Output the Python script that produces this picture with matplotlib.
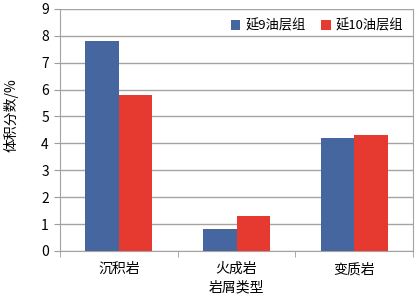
import numpy as np
import matplotlib
matplotlib.use("Agg")
import matplotlib.pyplot as plt

plt.rcParams['font.family'] = ['Noto Sans CJK SC', 'DejaVu Sans']

# data
categories = ['沉积岩', '火成岩', '变质岩']
series_names = ['延9油层组', '延10油层组']
yan9 = [7.8, 0.8, 4.2]
yan10 = [5.8, 1.3, 4.3]
colors = ['#4666a0', '#e63a30']

fig = plt.figure(figsize=(4.18, 2.97), dpi=100)
ax = fig.add_axes([0.1435, 0.155, 0.845, 0.815])

x = np.arange(len(categories))
w = 0.285
ax.bar(x - w / 2, yan9, w, color=colors[0], label=series_names[0], zorder=3)
ax.bar(x + w / 2, yan10, w, color=colors[1], label=series_names[1], zorder=3)

ax.set_xlim(-0.5, 2.5)
ax.set_ylim(0, 9)
ax.set_yticks(range(0, 10))
ax.set_xticks(x)
ax.set_xticklabels(categories, fontsize=10)
ax.set_xticks([-0.5, 0.5, 1.5, 2.5], minor=True)
ax.tick_params(axis='x', which='major', length=0, pad=8)
ax.tick_params(axis='x', which='minor', length=4, color='#a09a9a')
ax.tick_params(axis='y', length=4, color='#a09a9a', labelsize=10, pad=4)
ax.yaxis.grid(True, color='#a8a2a2', linewidth=1, zorder=0)

for s in ['left', 'bottom', 'right', 'top']:
    ax.spines[s].set_color('#a8a2a2')
ax.spines['top'].set_visible(False)

ax.set_xlabel('岩屑类型', fontsize=10, labelpad=3)
ax.set_ylabel('体积分数/%', fontsize=10)
ax.yaxis.set_label_coords(-0.118, 0.56)

ax.legend(loc='upper right', bbox_to_anchor=(0.995, 0.99), ncol=2, frameon=False,
          fontsize=9.5, handlelength=0.7, handleheight=0.7, handletextpad=0.4,
          columnspacing=1.2, borderaxespad=0.2)

fig.savefig('out.png', dpi=100)
